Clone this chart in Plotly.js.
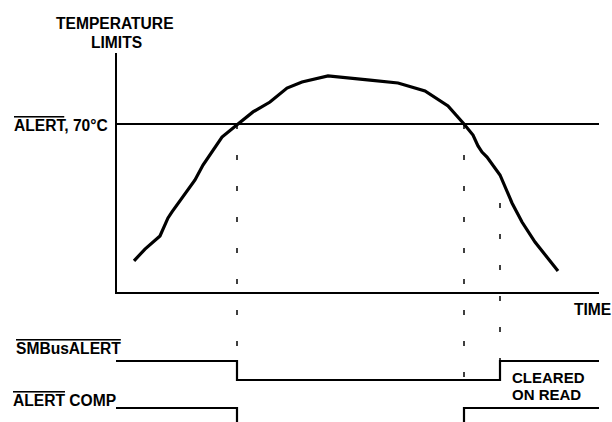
<!DOCTYPE html>
<html>
<head>
<meta charset="utf-8">
<script src="https://cdn.plot.ly/plotly-3.0.1.min.js"></script>
<style>html,body{margin:0;padding:0;background:#fff;}#chart{width:612px;height:422px;}</style>
</head>
<body>
<div id="chart"></div>
<script>
// ---- data (time in arbitrary units from the start of the time axis, temperature in °C) ----
const timeUnits = [18, 29, 44, 52, 56, 72, 79, 87, 97, 106, 122, 137, 154, 171, 186, 212, 254, 282, 309, 332, 348, 357, 362, 366, 371, 384, 396, 406, 419, 442];
const tempC     = [13.3, 18.2, 23.6, 31.1, 33.6, 43.1, 46.8, 53.0, 59.2, 64.6, 70.0, 75.0, 79.1, 84.9, 87.4, 89.9, 88.2, 87.0, 83.7, 77.5, 70.0, 65.4, 60.9, 58.4, 56.3, 48.9, 37.3, 29.4, 21.1, 9.1];
const alertLimitC = 70;
const eventTimes = [121, 348, 384];           // alert asserted, temp back under limit, SMBus read
const timeAxisEnd = 483;
const tempAxisTop = 99.4;
const smbusTimes  = [0, 121, 121, 384, 384, 483];
const smbusLevels = [1, 1, 0, 0, 1, 1];
const compTimes   = [0, 121, 121, 348, 348, 483];
const compLevels  = [1, 1, 0, 0, 1, 1];
const labels = {
  yTitle1: 'TEMPERATURE', yTitle2: 'LIMITS',
  limit: '<span style="text-decoration:overline">ALERT</span>, 70°C',
  xTitle: 'TIME',
  smbus: '<span style="text-decoration:overline">SMBusALERT</span>',
  comp: '<span style="text-decoration:overline">ALERT</span> COMP',
  cleared1: 'CLEARED', cleared2: 'ON READ'
};

// ---- geometry (page pixels) ----
const W = 612, H = 422;
const originPx = 116;          // left edge of time axis
const zeroTempPx = 293;        // y pixel of the time axis
const pxPerDeg = 169 / 70;
const tempToPx = T => zeroTempPx - T * pxPerDeg;
const smbusLane = v => 380 - 19 * v;
const compLane  = v => 427 - 19 * v;
const F = 'Liberation Sans, Arial, sans-serif';
const black = '#000';

const traces = [];
// temperature curve
traces.push({x: timeUnits, y: tempC, xaxis: 'x', yaxis: 'y', mode: 'lines',
  line: {color: black, width: 3.2}, hoverinfo: 'skip'});
// limit line
traces.push({x: [0, timeAxisEnd], y: [alertLimitC, alertLimitC], mode: 'lines',
  line: {color: black, width: 1.8}, hoverinfo: 'skip'});
// axes
traces.push({x: [0, 0, timeAxisEnd], y: [tempAxisTop, 0, 0], mode: 'lines',
  line: {color: black, width: 2}, hoverinfo: 'skip'});
// dashed event markers (on pixel axis y2)
const dashStarts = [tempToPx(alertLimitC), tempToPx(alertLimitC), 203];
const dashEnds = [smbusLane(1), smbusLane(0), smbusLane(1)];
eventTimes.forEach((t, i) => {
  traces.push({x: [t, t], y: [dashStarts[i], dashEnds[i]], yaxis: 'y2', mode: 'lines',
    line: {color: black, width: 1.5, dash: '5px,26px'}, hoverinfo: 'skip'});
});
// digital signals
traces.push({x: smbusTimes, y: smbusLevels.map(smbusLane), yaxis: 'y2', mode: 'lines',
  line: {color: black, width: 2.2, shape: 'linear'}, hoverinfo: 'skip'});
traces.push({x: compTimes, y: compLevels.map(compLane), yaxis: 'y2', mode: 'lines',
  line: {color: black, width: 2.2, shape: 'linear'}, hoverinfo: 'skip'});

function ann(text, xpx, ypx, xanchor, size) {
  return {text: '<b>' + text + '</b>', x: xpx - originPx, y: ypx, xref: 'x', yref: 'y2',
    xanchor: xanchor, yanchor: 'middle', showarrow: false,
    font: {family: F, size: size || 15.6, color: black}, borderpad: 0};
}

const layout = {
  width: W, height: H, margin: {l: 0, r: 0, t: 0, b: 0},
  paper_bgcolor: '#fff', plot_bgcolor: '#fff', showlegend: false,
  xaxis: {range: [-originPx, W - originPx], visible: false, fixedrange: true},
  yaxis: {range: [(zeroTempPx - H) / pxPerDeg, zeroTempPx / pxPerDeg], visible: false, fixedrange: true},
  yaxis2: {range: [H, 0], overlaying: 'y', visible: false, fixedrange: true},
  annotations: [
    ann(labels.yTitle1, 115, 23, 'center'),
    ann(labels.yTitle2, 116, 42, 'center'),
    ann(labels.limit, 109, 125, 'right'),
    ann(labels.xTitle, 612, 309, 'right'),
    ann(labels.smbus, 15, 348, 'left'),
    ann(labels.comp, 12, 400, 'left'),
    ann(labels.cleared1, 511, 377.5, 'left', 15),
    ann(labels.cleared2, 511, 394.5, 'left', 15)
  ]
};

Plotly.newPlot('chart', traces, layout, {staticPlot: true, displayModeBar: false});
</script>
</body>
</html>
